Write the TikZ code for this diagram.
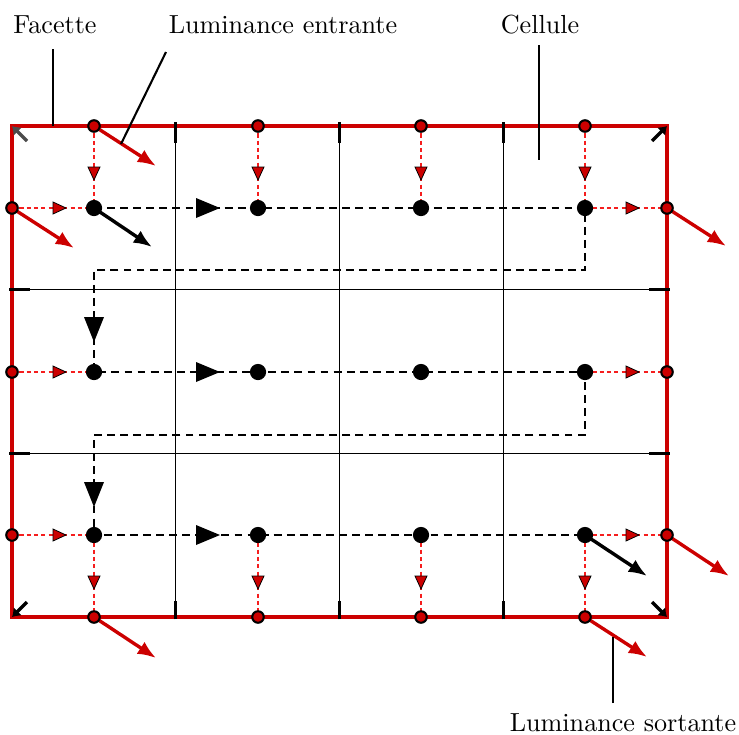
\documentclass[tikz,border=0pt]{standalone}
\usetikzlibrary{arrows.meta,calc}
\definecolor{rouge}{RGB}{204,0,0}
\definecolor{rougevif}{RGB}{245,30,30}
\begin{document}
\begin{tikzpicture}[x=0.01344cm,y=-0.01344cm,
  gridline/.style={line width=0.4pt,black},
  ticki/.style={line width=1.3pt,black},
  border/.style={line width=1.6pt,rouge,line join=miter},
  cornermark/.style={line width=1.3pt,black,-{Latex[length=3pt,width=4.5pt]}},
  reddash/.style={line width=0.6pt,rougevif,dash pattern=on 1.6pt off 1.2pt},
  redtri/.style={fill=rouge,draw=black,line width=0.3pt},
  sweep/.style={line width=0.9pt,black,dash pattern=on 3pt off 2pt},
  outarrow/.style={line width=1.3pt,rouge,-{Latex[length=7pt,width=5.5pt]}},
  blkarrow/.style={line width=1.3pt,black,-{Latex[length=7pt,width=5.5pt]}},
  rdot/.style={circle,draw=black,fill=rouge,line width=0.8pt,minimum size=4.4pt,inner sep=0pt},
  bdot/.style={circle,fill=black,minimum size=6.2pt,inner sep=0pt},
  leader/.style={line width=0.8pt,black},
  lbl/.style={anchor=base,inner sep=0pt,font=\fontsize{10}{12}\selectfont}
]
\useasboundingbox (0,0) rectangle (739,734);

% ---- frame corners and grid points
\coordinate (TL) at (12,126);
\coordinate (TR) at (667,126);
\coordinate (BL) at (12,617);
\coordinate (BR) at (667,617);

% cell centres
\foreach \i/\x in {1/94,2/258,3/421,4/585}{
  \foreach \j/\y in {1/208,2/372,3/535}{
    \coordinate (c\i\j) at (\x,\y);
  }
  \coordinate (t\i) at (\x,126);
  \coordinate (b\i) at (\x,617);
}
\foreach \j/\y in {1/208,2/372,3/535}{
  \coordinate (l\j) at (12,\y);
  \coordinate (r\j) at (667,\y);
}

% ---- thin grid lines
\foreach \x/\n in {175.7/1,339.6/2,503.3/3}{
  \coordinate (gt\n) at (\x,126);
  \coordinate (gb\n) at (\x,617);
  \draw[gridline] (gt\n) -- (gb\n);
}
\foreach \y/\n in {289.7/1,453.3/2}{
  \coordinate (gl\n) at (12,\y);
  \coordinate (gr\n) at (667,\y);
  \draw[gridline] (gl\n) -- (gr\n);
}

% ---- red dashed links with markers
\foreach \i in {1,2,3,4}{
  \draw[reddash] (t\i) -- (c\i1);
  \draw[reddash] (c\i3) -- (b\i);
  \filldraw[redtri] ($(t\i)!0.5!(c\i1)$) ++(-6,0) -- ++(6,13) -- ++(6,-13) -- cycle;
  \filldraw[redtri] ($(c\i3)!0.5!(b\i)$) ++(-6,0) -- ++(6,13) -- ++(6,-13) -- cycle;
}
\foreach \j in {1,2,3}{
  \draw[reddash] (l\j) -- (c1\j);
  \draw[reddash] (c4\j) -- (r\j);
  \filldraw[redtri] ($(l\j)!0.5!(c1\j)$) ++(0,-6) -- ++(13,6) -- ++(-13,6) -- cycle;
  \filldraw[redtri] ($(c4\j)!0.5!(r\j)$) ++(0,-6) -- ++(13,6) -- ++(-13,6) -- cycle;
}

% ---- sweep path
\coordinate (k1) at (585,270);
\coordinate (k2) at (94,270);
\coordinate (k3) at (585,435);
\coordinate (k4) at (94,435);
\draw[sweep] (c11) -- (c41) -- (k1) -- (k2) -- (c12) -- (c42) -- (k3) -- (k4) -- (c13) -- (c43);

% ---- red border
\draw[border] (TL) rectangle (BR);

% ---- ticks on the border
\foreach \n in {1,2,3}{
  \draw[ticki] ([yshift=0.05cm]gt\n) -- ([yshift=-0.23cm]gt\n);
  \draw[ticki] ([yshift=-0.03cm]gb\n) -- ([yshift=0.21cm]gb\n);
}
\foreach \n in {1,2}{
  \draw[ticki] ([xshift=-0.04cm]gl\n) -- ([xshift=0.24cm]gl\n);
  \draw[ticki] ([xshift=0.04cm]gr\n) -- ([xshift=-0.24cm]gr\n);
}

% ---- corner marks
\coordinate (mTL) at (27,141);
\coordinate (mTR) at (652,141);
\coordinate (mBL) at (27,602);
\coordinate (mBR) at (652,602);
\draw[cornermark,black!70] (mTL) -- (TL);
\draw[cornermark] (mTR) -- (TR);
\draw[cornermark] (mBL) -- (BL);
\draw[cornermark] (mBR) -- (BR);

% ---- outgoing / incoming radiance arrows
\coordinate (et1) at (156,166);
\coordinate (el1) at (74,248);
\coordinate (er1) at (726,246);
\coordinate (er3) at (729,576);
\coordinate (eb1) at (156,658);
\coordinate (eb4) at (647,657);
\coordinate (ec11) at (152,247);
\coordinate (ec43) at (647,576);
\draw[outarrow] (t1) -- (et1);
\draw[outarrow] (l1) -- (el1);
\draw[outarrow] (r1) -- (er1);
\draw[outarrow] (r3) -- (er3);
\draw[outarrow] (b1) -- (eb1);
\draw[outarrow] (b4) -- (eb4);
\draw[blkarrow] (c11) -- (ec11);
\draw[blkarrow] (c43) -- (ec43);

% ---- dots
\foreach \i in {1,2,3,4}{
  \foreach \j in {1,2,3}{
    \node[bdot] (d\i\j) at (c\i\j) {};
  }
  \node[rdot] (dt\i) at (t\i) {};
  \node[rdot] (db\i) at (b\i) {};
}
\foreach \j in {1,2,3}{
  \node[rdot] (dl\j) at (l\j) {};
  \node[rdot] (dr\j) at (r\j) {};
}

% ---- black direction triangles on the sweep
\foreach \y in {208,372,535}{
  \fill[black] (196,\y-10) -- (220,\y) -- (196,\y+10) -- cycle;
}
\fill[black] (84,317) -- (94,342) -- (104,317) -- cycle;
\fill[black] (84,482) -- (94,507) -- (104,482) -- cycle;

% ---- labels and leader lines
\node[lbl] (facette) at (55,33) {Facette};
\node[lbl] (lumin) at (283,33) {Luminance entrante};
\node[lbl] (cellule) at (540,33) {Cellule};
\node[lbl] (lumout) at (623,731) {Luminance sortante};

\coordinate (fa) at (53,49);
\coordinate (fb) at (53,126);
\coordinate (la) at (166,52);
\coordinate (lb) at (121,144);
\coordinate (ca) at (539,45);
\coordinate (cb) at (539,160);
\coordinate (oa) at (613,703);
\coordinate (ob) at (613,637);
\draw[leader] (fa) -- (fb);
\draw[leader] (la) -- (lb);
\draw[leader] (ca) -- (cb);
\draw[leader] (oa) -- (ob);
\end{tikzpicture}
\end{document}
